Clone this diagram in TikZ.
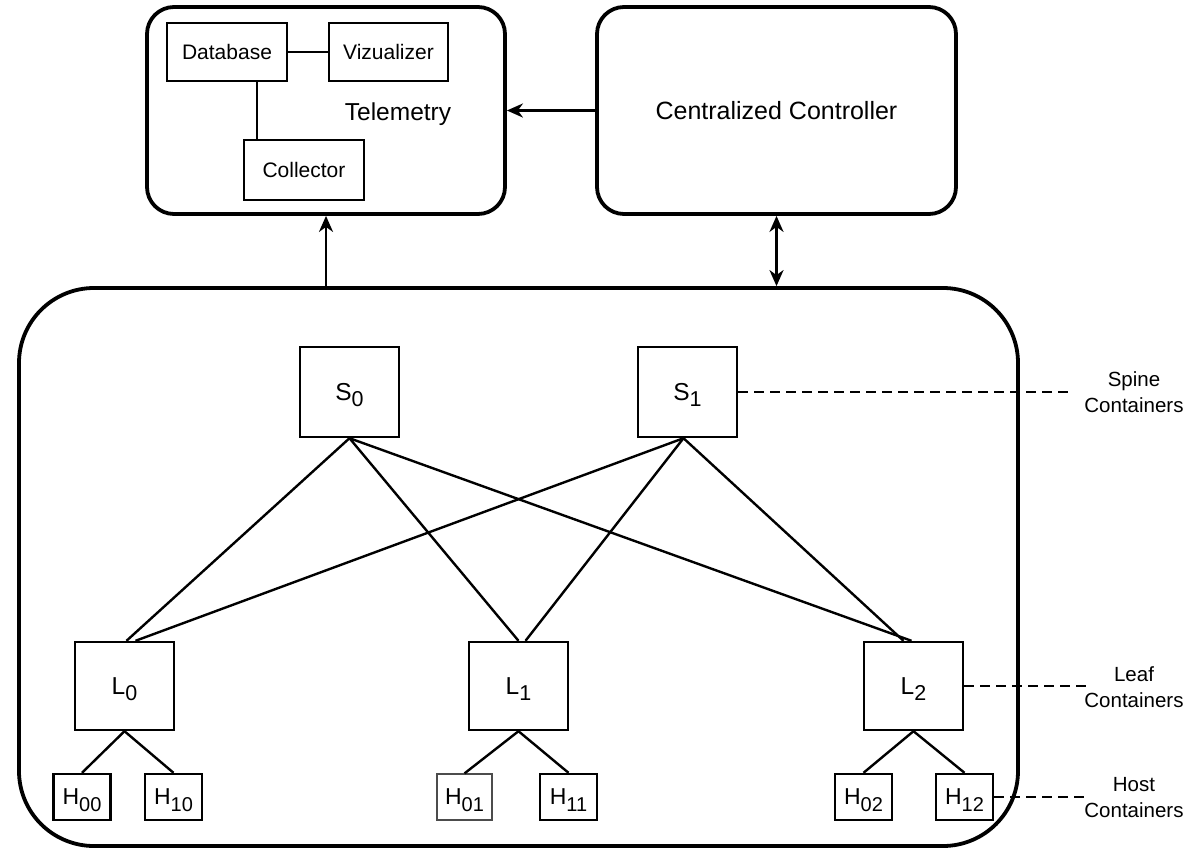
\documentclass[tikz,border=0pt]{standalone}
\usepackage{fontspec}
\setmainfont{Liberation Sans}
\usetikzlibrary{arrows.meta,calc}
\newcommand\lsub[2][21.5]{\raisebox{-6.5pt}[0pt][0pt]{\fontsize{#1}{#1}\selectfont #2}}
\begin{document}
\begin{tikzpicture}[x=1pt,y=-1pt,
  box/.style={draw, line width=2.4pt, inner sep=0pt, font=\fontsize{21}{21}\selectfont},
  bigbox/.style={draw, line width=3.8pt, rounded corners=27pt, inner sep=0pt},
  spinebox/.style={box, minimum width=99pt, minimum height=90pt, font=\fontsize{24.5}{24.5}\selectfont},
  leafbox/.style={box, minimum width=99pt, minimum height=88pt, font=\fontsize{24.5}{24.5}\selectfont},
  hostbox/.style={box, minimum width=57pt, minimum height=46pt, font=\fontsize{23}{23}\selectfont},
  link/.style={line width=2.4pt},
  arr/.style={line width=2.4pt, -{Stealth[length=16pt,width=14pt,inset=5pt]}},
  darr/.style={line width=2.4pt, {Stealth[length=16pt,width=14pt,inset=5pt]}-{Stealth[length=16pt,width=14pt,inset=5pt]}},
  dsh/.style={line width=2.4pt, dash pattern=on 10pt off 6pt},
  note/.style={align=center, font=\fontsize{20.5}{26}\selectfont},
]
\useasboundingbox (0,0) rectangle (1194,849);

% top boxes
\node[bigbox, minimum width=358pt, minimum height=207pt] (tele) at (326,110.5) {};
\node[bigbox, minimum width=359pt, minimum height=207pt, font=\fontsize{25}{25}\selectfont] (ctrl) at (776.5,110.5) {Centralized Controller};
\node[anchor=base, inner sep=0pt, font=\fontsize{24.5}{24.5}\selectfont] (ttxt) at (398,120) {Telemetry};

\node[box, minimum width=120pt, minimum height=58pt] (db) at (227,52) {Database};
\node[box, minimum width=119pt, minimum height=58pt] (viz) at (388.5,52) {Vizualizer};
\node[box, minimum width=120pt, minimum height=60pt] (col) at (304,170) {Collector};
\draw[link] (db.east) -- (viz.west);
\draw[link] (db.south -| 257,0) -- (col.north -| 257,0);

% big container
\node[bigbox, rounded corners=75pt, minimum width=999pt, minimum height=558pt] (big) at (518.5,567) {};

\draw[arr] (ctrl.west) -- (tele.east);
\draw[arr] (big.north -| tele.south) -- (tele.south);
\draw[darr] (ctrl.south) -- (big.north -| ctrl.south);

% spines
\node[spinebox] (s0) at (349.5,392) {S\lsub{0}};
\node[spinebox] (s1) at (687.5,392) {S\lsub{1}};

% leaves
\node[leafbox] (l0) at (124.5,686) {L\lsub{0}};
\node[leafbox] (l1) at (518.5,686) {L\lsub{1}};
\node[leafbox] (l2) at (913.5,686) {L\lsub{2}};

% hosts
\node[hostbox] (h00) at (82,797) {H\lsub[20]{00}};
\node[hostbox] (h10) at (173.5,797) {H\lsub[20]{10}};
\node[hostbox, minimum width=55pt, line width=1.2pt, draw=black!70] (h01) at (464.5,797) {H\lsub[20]{01}};
\node[hostbox] (h11) at (568.5,797) {H\lsub[20]{11}};
\node[hostbox] (h02) at (863.5,797) {H\lsub[20]{02}};
\node[hostbox] (h12) at (964.5,797) {H\lsub[20]{12}};

% spine-leaf links
\draw[link] (s0.south) -- ([xshift=2pt]l0.north);
\draw[link] (s0.south) -- (l1.north);
\draw[link] (s0.south) -- ([xshift=-2pt]l2.north);
\draw[link] ([xshift=-4pt]s1.south) -- ([xshift=11pt]l0.north);
\draw[link] ([xshift=-4pt]s1.south) -- ([xshift=7pt]l1.north);
\draw[link] ([xshift=-4pt]s1.south) -- ([xshift=-10pt]l2.north);

% leaf-host links
\draw[link] (l0.south) -- (h00.north);
\draw[link] (l0.south) -- (h10.north);
\draw[link] (l1.south) -- (h01.north);
\draw[link] (l1.south) -- (h11.north);
\draw[link] (l2.south) -- (h02.north);
\draw[link] (l2.south) -- (h12.north);

% legend
\coordinate (spR) at (1068,392);
\coordinate (lfR) at (1089,686);
\coordinate (hsR) at (1087,797);
\draw[dsh] (s1.east) -- (spR);
\draw[dsh] (l2.east) -- (lfR);
\draw[dsh] (h12.east) -- (hsR);
\node[note] (spl) at (1134,392) {Spine\\Containers};
\node[note] (lfl) at (1134,687) {Leaf\\Containers};
\node[note] (hsl) at (1134,798) {Host\\Containers};
\end{tikzpicture}
\end{document}
